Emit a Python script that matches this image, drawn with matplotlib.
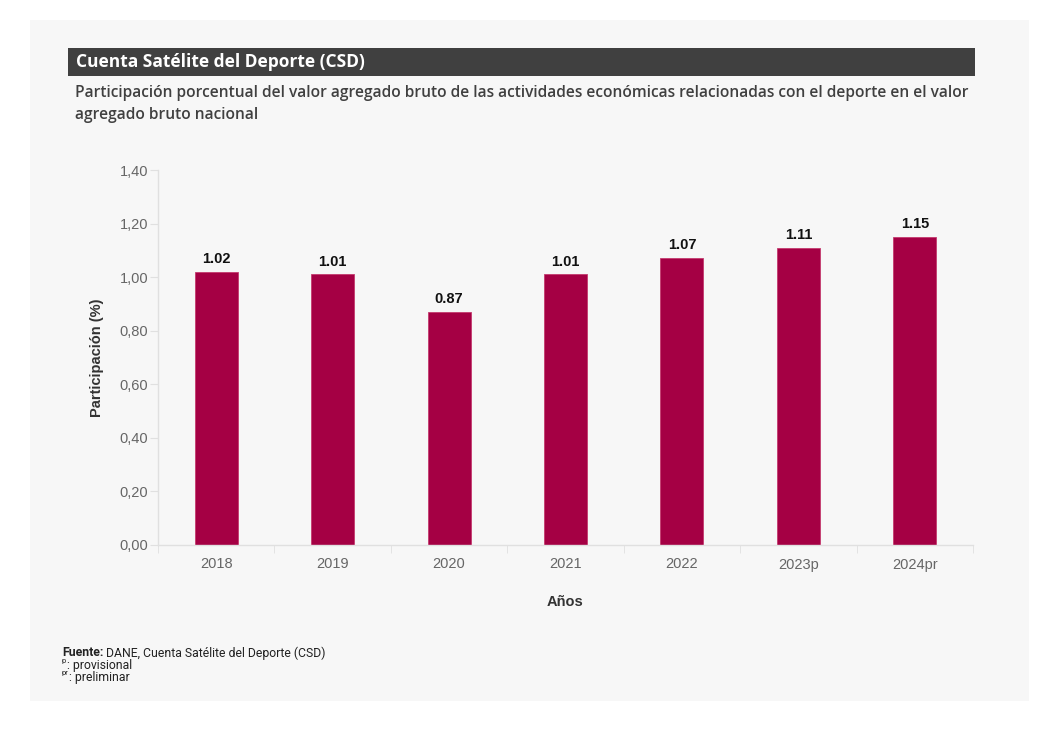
import matplotlib.pyplot as plt
from matplotlib.patches import Rectangle
from matplotlib.ticker import FixedLocator

# data
years = ["2018", "2019", "2020", "2021", "2022", "2023p", "2024pr"]
values = [1.02, 1.01, 0.87, 1.01, 1.07, 1.11, 1.15]
yticks = [0.0, 0.2, 0.4, 0.6, 0.8, 1.0, 1.2, 1.4]

W, H = 1062, 729
fig = plt.figure(figsize=(W / 100, H / 100), dpi=100, facecolor="white")

def fx(px):
    return px / W

def fy(py):
    return 1 - py / H

# grey panel and title bar
fig.patches.append(Rectangle((fx(30), fy(701)), fx(999), 681 / H, transform=fig.transFigure,
                             facecolor="#f7f7f7", edgecolor="none", zorder=-2))
fig.patches.append(Rectangle((fx(68), fy(76)), fx(907), 28 / H, transform=fig.transFigure,
                             facecolor="#404040", edgecolor="none", zorder=-1))

fig.text(fx(76), fy(62), "Cuenta Satélite del Deporte (CSD)", color="white",
         fontsize=12.5, fontweight="bold", family="Open Sans", va="center")
fig.text(fx(75), fy(93), "Participación porcentual del valor agregado bruto de las actividades económicas relacionadas con el deporte en el valor",
         color="#404040", fontsize=11.2, fontweight="semibold", family="Open Sans", va="center")
fig.text(fx(75), fy(115), "agregado bruto nacional",
         color="#404040", fontsize=11.2, fontweight="semibold", family="Open Sans", va="center")

ax = fig.add_axes([fx(158), fy(545), fx(973 - 158), (545 - 170) / H])
ax.set_facecolor("none")
ax.set_zorder(2)

x = range(len(years))
bars = ax.bar(x, values, width=0.37, color="#a50044", edgecolor="#c43a6e", linewidth=0.6, zorder=2)
for xi, v in zip(x, values):
    ax.text(xi, v + 0.022, f"{v:.2f}", ha="center", va="bottom", fontsize=10.5,
            fontweight="bold", family="Liberation Sans", color="#111111")

ax.set_xlim(-0.5, len(years) - 0.5)
ax.set_ylim(0, 1.4)
ax.set_yticks(yticks)
ax.set_yticklabels([f"{t:.2f}".replace(".", ",") for t in yticks])
ax.set_xticks(list(x))
ax.set_xticklabels(years)
ax.xaxis.set_minor_locator(FixedLocator([i - 0.5 for i in range(len(years) + 1)]))

for s in ["top", "right"]:
    ax.spines[s].set_visible(False)
for s in ["left", "bottom"]:
    ax.spines[s].set_color("#e0e0e0")
    ax.spines[s].set_linewidth(1)

ax.tick_params(axis="y", length=6, color="#e0e0e0", labelsize=10.5, labelcolor="#666666", pad=1)
ax.tick_params(axis="x", which="major", length=0, labelsize=10.5, labelcolor="#666666", pad=9)
ax.tick_params(axis="x", which="minor", length=6, color="#e0e0e0")
for lbl in ax.get_xticklabels() + ax.get_yticklabels():
    lbl.set_family("Liberation Sans")

ax.set_xlabel("Años", fontsize=10.5, fontweight="bold", family="Liberation Sans", color="#333333", labelpad=17)
ax.set_ylabel("Participación (%)", fontsize=10.5, fontweight="bold", family="Liberation Sans", color="#333333", labelpad=11)

# footer
renderer = fig.canvas.get_renderer()
fuente = fig.text(fx(62), fy(653), "Fuente:", fontsize=8.8, fontweight="bold",
                  family="Roboto", color="#222222", va="center")
bb = fuente.get_window_extent(renderer)
fig.text((bb.x1 + 3) / W, fy(653), "DANE, Cuenta Satélite del Deporte (CSD)", fontsize=8.8,
         family="Roboto", color="#222222", va="center")
fig.text(fx(62), fy(661), "p", fontsize=5.5, family="Roboto", color="#222222", va="center")
fig.text(fx(67), fy(665), ": provisional", fontsize=8.8, family="Roboto", color="#222222", va="center")
fig.text(fx(62), fy(673), "pr", fontsize=5.5, family="Roboto", color="#222222", va="center")
fig.text(fx(69), fy(677), ": preliminar", fontsize=8.8, family="Roboto", color="#222222", va="center")

fig.savefig("out.png", dpi=100, facecolor="white")
